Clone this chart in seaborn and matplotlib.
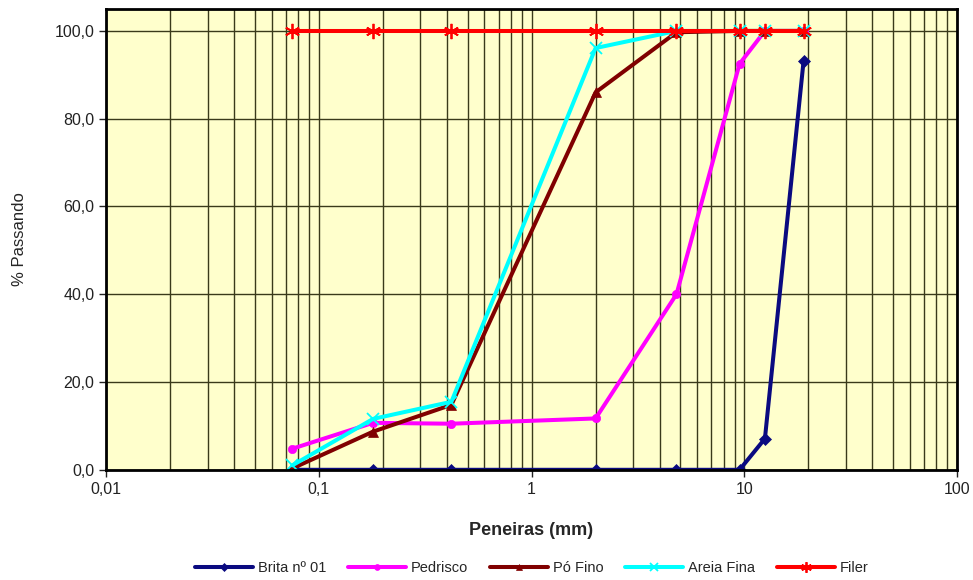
import numpy as np
import pandas as pd
import matplotlib
matplotlib.use("Agg")
import matplotlib.pyplot as plt
from matplotlib.ticker import FixedLocator, FuncFormatter, LogLocator, NullFormatter
import seaborn as sns

# Sieve openings (mm) and percent passing for each aggregate
peneiras = [0.075, 0.18, 0.42, 2.0, 4.8, 9.5, 12.5, 19.0]
brita_01 = [0.0, 0.0, 0.0, 0.0, 0.0, 0.0, 7.1, 93.2]
pedrisco = [4.8, 10.7, 10.5, 11.7, 40.0, 92.5, 100.0, 100.0]
po_fino = [0.3, 8.7, 14.8, 86.0, 99.7, 100.0, 100.0, 100.0]
areia_fina = [1.0, 11.6, 15.5, 96.1, 100.0, 100.0, 100.0, 100.0]
filer = [100.0, 100.0, 100.0, 100.0, 100.0, 100.0, 100.0, 100.0]

series_names = ["Brita nº 01", "Pedrisco", "Pó Fino", "Areia Fina", "Filer"]
series_values = [brita_01, pedrisco, po_fino, areia_fina, filer]
colors = ["#0a0a80", "#ff00ff", "#800000", "#00ffff", "#ff0000"]
markers = ["D", "o", "^", "x", (6, 2, 0)]
marker_sizes = [6, 6, 7, 8, 11]

sns.set_theme(style="white")
plt.rcParams["font.family"] = ["Liberation Sans", "DejaVu Sans"]

fig = plt.figure(figsize=(9.73, 5.80), dpi=100)
ax = fig.add_axes([0.109, 0.19, 0.8746, 0.7945])
ax.set_facecolor("#ffffcc")

df = pd.DataFrame({
    "Peneira": np.tile(peneiras, len(series_names)),
    "Passando": np.concatenate(series_values),
    "Serie": np.repeat(series_names, len(peneiras)),
})

for name, col, mk, ms in zip(series_names, colors, markers, marker_sizes):
    sub = df[df["Serie"] == name]
    thin = mk == "x" or isinstance(mk, tuple)
    sns.lineplot(data=sub, x="Peneira", y="Passando", ax=ax, color=col,
                 marker=mk, markersize=ms, linewidth=2.9, label=name,
                 markeredgecolor=col, markeredgewidth=1.3 if thin else 0.5,
                 sort=False, estimator=None)

ax.set_xscale("log")
ax.set_xlim(0.01, 100)
ax.set_ylim(0, 105)

ax.xaxis.set_major_locator(FixedLocator([0.01, 0.1, 1, 10, 100]))
ax.xaxis.set_minor_locator(LogLocator(base=10, subs=np.arange(2, 10)))
ax.xaxis.set_minor_formatter(NullFormatter())
ax.xaxis.set_major_formatter(FuncFormatter(lambda v, p: ("%g" % v).replace(".", ",")))
ax.yaxis.set_major_locator(FixedLocator([0, 20, 40, 60, 80, 100]))
ax.yaxis.set_major_formatter(FuncFormatter(lambda v, p: ("%.1f" % v).replace(".", ",")))

ax.grid(True, which="both", axis="x", color="#3a3a1a", linewidth=1.0)
ax.grid(True, which="major", axis="y", color="#3a3a1a", linewidth=1.0)
ax.set_axisbelow(True)

for s in ax.spines.values():
    s.set_color("black")
    s.set_linewidth(2)

ax.tick_params(axis="both", which="major", labelsize=11.5, colors="#222222",
               length=5, width=1, direction="out", bottom=True, left=True)
ax.tick_params(axis="x", which="minor", length=0)

ax.set_xlabel("Peneiras (mm)", fontsize=13, fontweight="bold", labelpad=18)
ax.set_ylabel("% Passando", fontsize=12, labelpad=20)

leg = ax.legend(loc="upper center", bbox_to_anchor=(0.5, -0.17), ncol=5,
                frameon=False, fontsize=10.5, handlelength=4, columnspacing=1.5,
                handletextpad=0.3, markerscale=0.7)

fig.savefig("out.png", dpi=100)
